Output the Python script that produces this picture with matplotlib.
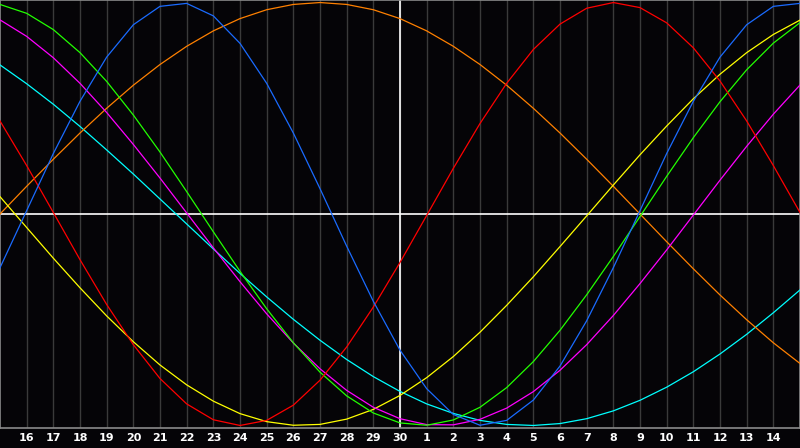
import matplotlib
matplotlib.use("Agg")
import matplotlib.pyplot as plt
import numpy as np

# calendar days shown along the bottom (first and last are the chart edges)
days = [15, 16, 17, 18, 19, 20, 21, 22, 23, 24, 25, 26, 27, 28, 29, 30,
        1, 2, 3, 4, 5, 6, 7, 8, 9, 10, 11, 12, 13, 14, 15]
today = 30

# curve values for each day (-1 .. 1)
physical = [-0.254, 0.016, 0.286, 0.533, 0.742, 0.895, 0.982, 0.996, 0.937, 0.807,
            0.618, 0.383, 0.120, -0.152, -0.413, -0.644, -0.826, -0.948, -0.999, -0.976,
            -0.880, -0.719, -0.505, -0.254, 0.016, 0.286, 0.533, 0.742, 0.895, 0.982, 0.996]
emotional = [0.440, 0.229, 0.007, -0.216, -0.428, -0.618, -0.778, -0.898, -0.973, -1.000,
             -0.976, -0.904, -0.786, -0.629, -0.440, -0.229, -0.007, 0.216, 0.428, 0.618,
             0.778, 0.898, 0.973, 1.000, 0.976, 0.904, 0.786, 0.629, 0.440, 0.229, 0.007]
intellectual = [0.991, 0.949, 0.872, 0.763, 0.627, 0.468, 0.293, 0.106, -0.084, -0.271,
                -0.448, -0.609, -0.748, -0.860, -0.941, -0.988, -0.999, -0.974, -0.914, -0.821,
                -0.698, -0.550, -0.382, -0.201, -0.012, 0.178, 0.361, 0.531, 0.682, 0.808, 0.905]
intuitive = [0.918, 0.840, 0.739, 0.618, 0.480, 0.329, 0.170, 0.005, -0.160, -0.320,
             -0.472, -0.610, -0.732, -0.834, -0.914, -0.968, -0.996, -0.997, -0.971, -0.918,
             -0.840, -0.739, -0.618, -0.480, -0.329, -0.170, -0.005, 0.160, 0.320, 0.472, 0.610]
aesthetic = [0.082, -0.064, -0.209, -0.349, -0.482, -0.604, -0.714, -0.808, -0.885, -0.944,
             -0.982, -0.999, -0.995, -0.970, -0.924, -0.858, -0.774, -0.674, -0.559, -0.432,
             -0.297, -0.154, -0.009, 0.137, 0.280, 0.416, 0.545, 0.661, 0.763, 0.849, 0.917]
awareness = [0.000, 0.131, 0.259, 0.383, 0.500, 0.609, 0.707, 0.793, 0.866, 0.924,
             0.966, 0.991, 1.000, 0.991, 0.966, 0.924, 0.866, 0.793, 0.707, 0.609,
             0.500, 0.383, 0.259, 0.131, 0.000, -0.131, -0.259, -0.383, -0.500, -0.609, -0.707]
spiritual = [0.705, 0.616, 0.519, 0.414, 0.303, 0.189, 0.071, -0.047, -0.165, -0.281,
             -0.392, -0.498, -0.597, -0.688, -0.769, -0.839, -0.898, -0.943, -0.976, -0.995,
             -1.000, -0.991, -0.968, -0.931, -0.881, -0.819, -0.746, -0.662, -0.569, -0.467, -0.359]

curves = [
    (spiritual, "#00ffff"),
    (awareness, "#ff8000"),
    (aesthetic, "#ffff00"),
    (intuitive, "#ff00ff"),
    (intellectual, "#22ff00"),
    (emotional, "#ff0000"),
    (physical, "#1a6bff"),
]

bg = "#050407"
x = np.arange(len(days))

fig = plt.figure(figsize=(8, 4.48), dpi=100, facecolor=bg)
ax = fig.add_axes([0, 20 / 448, 1, 428 / 448])
ax.set_facecolor(bg)

# day grid
for i in x[1:-1]:
    ax.axvline(i, color="#3a3a3a", lw=1, zorder=1)

ax.axhline(0, color="white", lw=1.2, zorder=2)
ax.axvline(days.index(today), color="white", lw=1.2, zorder=2)

for vals, col in curves:
    ax.plot(x, vals, color=col, lw=0.9, zorder=3)

ax.set_xlim(0, len(days) - 1)
ax.set_ylim(-1.012, 1.012)
ax.set_yticks([])
ax.set_xticks(x[1:-1])
ax.set_xticklabels([str(d) for d in days[1:-1]])
ax.tick_params(axis="x", length=0, pad=3.5, labelcolor="white", labelsize=8)
for lab in ax.get_xticklabels():
    lab.set_fontweight("bold")

for s in ax.spines.values():
    s.set_color("#8a8a8a")
    s.set_linewidth(1.2)

fig.savefig("out.png", dpi=100, facecolor=bg)
